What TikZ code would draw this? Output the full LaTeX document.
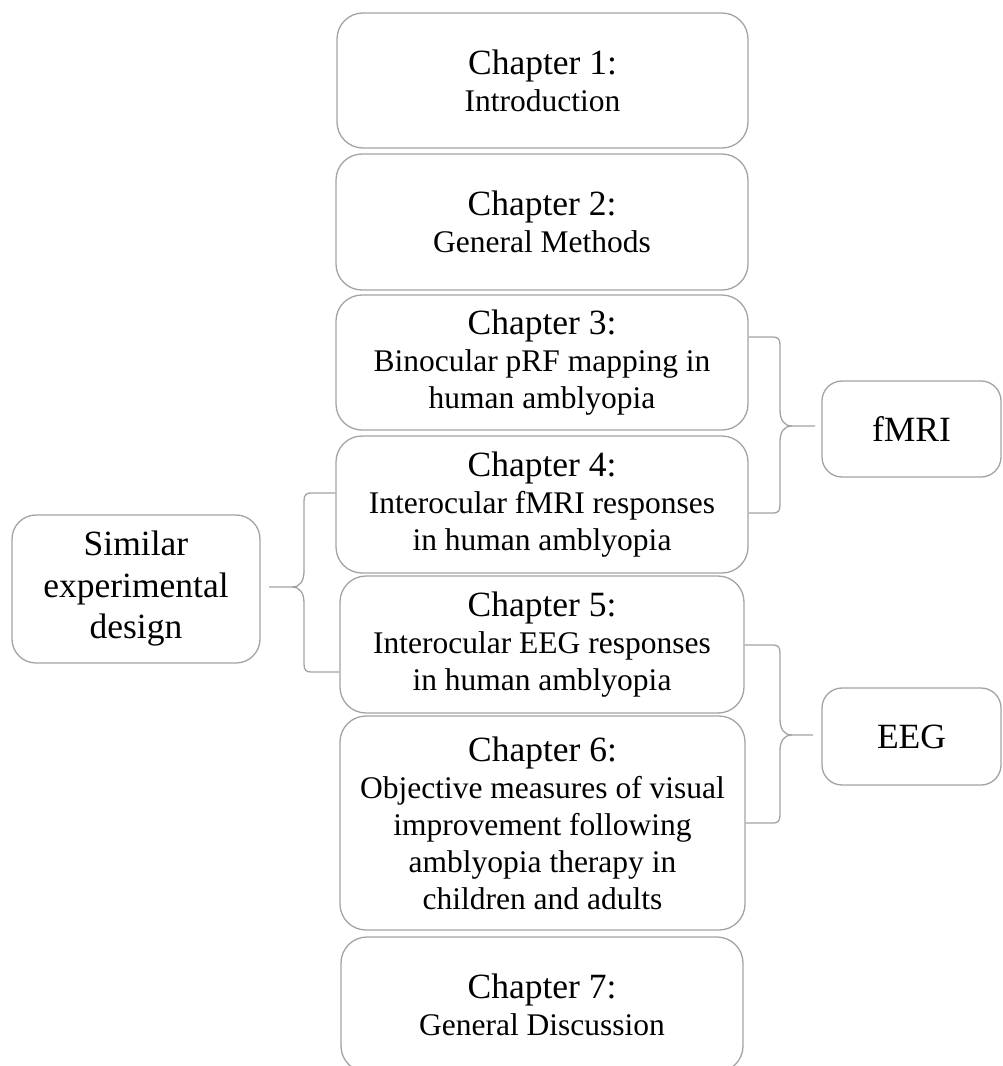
\documentclass[tikz,border=0pt]{standalone}
\usepackage{fontspec}
\setmainfont{Liberation Serif}
\definecolor{linegray}{HTML}{A3A3A3}
\newcommand\chtitlefont{\fontsize{35.5}{37}\selectfont}
\newcommand\chsubfont{\fontsize{31.5}{37}\selectfont}
\newcommand\sidefont{\fontsize{35.5}{41.5}\selectfont}
\begin{document}
\begin{tikzpicture}[x=1pt,y=-1pt,
  box/.style={draw=linegray, line width=1.3pt, rounded corners=26pt, align=center, inner sep=0pt, font=\chsubfont},
  sidebox/.style={box, font=\sidefont, rounded corners=24pt},
  bracepath/.style={draw=linegray, line width=1.3pt}]
\useasboundingbox (0,0) rectangle (1002,1066);
\clip (0,0) rectangle (1002,1066);
% chapter column
\node[box, minimum width=411pt, minimum height=135pt] (ch1) at (542.5,80.5) {{\chtitlefont Chapter 1:}\\Introduction};
\node[box, minimum width=412pt, minimum height=136pt] (ch2) at (542,222) {{\chtitlefont Chapter 2:}\\General Methods};
\node[box, minimum width=412pt, minimum height=135pt] (ch3) at (542,362.5) {{\chtitlefont Chapter 3:}\\Binocular pRF mapping in\\human amblyopia};
\node[box, minimum width=412pt, minimum height=137pt] (ch4) at (542,504.5) {{\chtitlefont Chapter 4:}\\Interocular fMRI responses\\in human amblyopia};
\node[box, minimum width=404pt, minimum height=137pt] (ch5) at (542,644.5) {{\chtitlefont Chapter 5:}\\Interocular EEG responses\\in human amblyopia};
\node[box, minimum width=405pt, minimum height=214pt] (ch6) at (542.5,823) {{\chtitlefont Chapter 6:}\\Objective measures of visual\\improvement following\\amblyopia therapy in\\children and adults};
\node[box, minimum width=402pt, minimum height=135pt] (ch7) at (542,1004.5) {{\chtitlefont Chapter 7:}\\General Discussion};
% side boxes
\node[sidebox, minimum width=248pt, minimum height=148pt] (sim) at (136,589) {Similar\\experimental\\design};
\node[sidebox, minimum width=179pt, minimum height=96pt, rounded corners=20pt] (fmri) at (911.5,429) {fMRI};
\node[sidebox, minimum width=179pt, minimum height=97pt, rounded corners=20pt] (eeg) at (911.5,736.5) {EEG};
% brace anchors
\coordinate (f1) at (ch3.east |- 0,337);
\coordinate (f2) at (ch4.east |- 0,513);
\coordinate (ft) at (815,426);
\coordinate (e1) at (ch5.east |- 0,645);
\coordinate (e2) at (ch6.east |- 0,823);
\coordinate (et) at (813,735);
\coordinate (s1) at (ch4.west |- 0,493);
\coordinate (s2) at (ch5.west |- 0,672);
\coordinate (st) at (269,587);
% fMRI brace
\draw[bracepath] (f1) -- (773,337) .. controls (778,337) and (780,339) .. (780,345) -- (780,410) .. controls (780,420) and (784,426) .. (792,426) -- (ft);
\draw[bracepath] (f2) -- (773,513) .. controls (778,513) and (780,511) .. (780,505) -- (780,442) .. controls (780,432) and (784,426) .. (792,426);
% EEG brace
\draw[bracepath] (e1) -- (773,645) .. controls (778,645) and (780,647) .. (780,653) -- (780,719) .. controls (780,729) and (784,735) .. (792,735) -- (et);
\draw[bracepath] (e2) -- (773,823) .. controls (778,823) and (780,821) .. (780,815) -- (780,751) .. controls (780,741) and (784,735) .. (792,735);
% similar-design brace
\draw[bracepath] (s1) -- (311,493) .. controls (306,493) and (304,495) .. (304,501) -- (304,571) .. controls (304,581) and (300,587) .. (292,587) -- (st);
\draw[bracepath] (s2) -- (311,672) .. controls (306,672) and (304,670) .. (304,664) -- (304,603) .. controls (304,593) and (300,587) .. (292,587);
\end{tikzpicture}
\end{document}
